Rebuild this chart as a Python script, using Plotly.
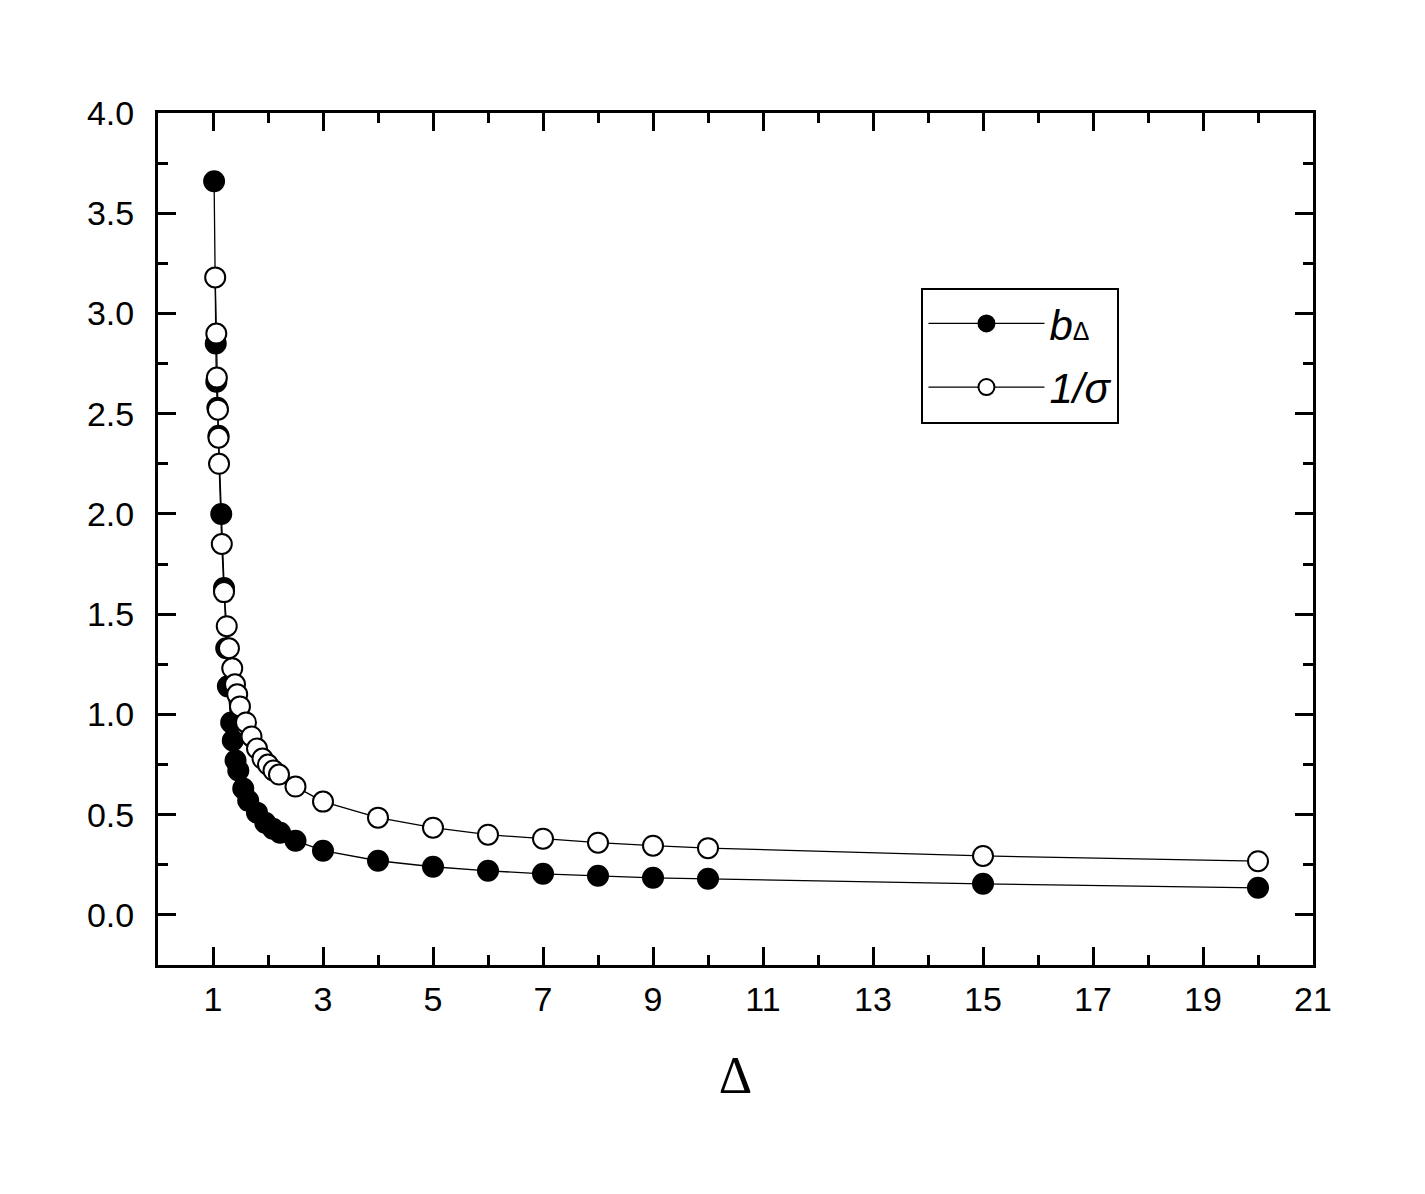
import plotly.graph_objects as go

# b_Delta (filled circles)
b_x = [1.02, 1.05, 1.06, 1.08, 1.10, 1.15, 1.20, 1.24, 1.27, 1.33, 1.36, 1.41, 1.46,
       1.55, 1.64, 1.80, 1.95, 2.09, 2.22, 2.5, 3, 4, 5, 6, 7, 8, 9, 10, 15, 20]
b_y = [3.66, 2.85, 2.66, 2.53, 2.39, 2.00, 1.63, 1.33, 1.14, 0.96, 0.87, 0.77, 0.72,
       0.63, 0.57, 0.51, 0.46, 0.43, 0.41, 0.37, 0.32, 0.27, 0.24, 0.22, 0.205, 0.195,
       0.185, 0.18, 0.155, 0.135]

# 1/sigma (open circles)
s_x = [1.04, 1.06, 1.07, 1.09, 1.10, 1.11, 1.16, 1.20, 1.25, 1.29, 1.35, 1.40, 1.44,
       1.49, 1.60, 1.70, 1.80, 1.90, 2.00, 2.10, 2.20, 2.5, 3, 4, 5, 6, 7, 8, 9, 10, 15, 20]
s_y = [3.18, 2.90, 2.68, 2.52, 2.38, 2.25, 1.85, 1.61, 1.44, 1.33, 1.23, 1.15, 1.10,
       1.04, 0.96, 0.89, 0.83, 0.78, 0.75, 0.72, 0.70, 0.64, 0.565, 0.485, 0.435, 0.40,
       0.38, 0.36, 0.345, 0.333, 0.294, 0.268]

x_ticks = list(range(1, 22, 2))
y_ticks = [0.0, 0.5, 1.0, 1.5, 2.0, 2.5, 3.0, 3.5, 4.0]
y_labels = ["%.1f" % v for v in y_ticks]

fig = go.Figure()
fig.add_trace(go.Scatter(
    x=b_x, y=b_y, mode="lines+markers",
    name="<i>b</i><span style='font-size:25px'>Δ</span>",
    legendgroup="a",
    line=dict(color="black", width=1.3),
    marker=dict(symbol="circle", size=20, color="black", line=dict(color="black", width=2)),
))
fig.add_trace(go.Scatter(
    x=s_x, y=s_y, mode="lines+markers", name="<i>1/σ</i>",
    legendgroup="b",
    line=dict(color="black", width=1.3),
    marker=dict(symbol="circle", size=20, color="white", line=dict(color="black", width=2)),
))

axis_common = dict(
    showline=True, linecolor="black", linewidth=3, mirror="ticks",
    ticks="inside", ticklen=18, tickwidth=3, tickcolor="black",
    showgrid=False, zeroline=False,
    tickfont=dict(family="Liberation Sans, Arial", size=34, color="black"),
)

fig.update_xaxes(
    range=[0, 21], tickvals=x_ticks, ticktext=[str(v) for v in x_ticks],
    minor=dict(ticks="inside", ticklen=10, tickwidth=3, tickcolor="black", dtick=1, tick0=0),
    ticklabelstandoff=2,
    title=dict(text="Δ", font=dict(family="Liberation Serif, Times New Roman", size=52, color="black"),
               standoff=40),
    **axis_common,
)
fig.update_yaxes(
    range=[-0.25, 4.0], tickvals=y_ticks, ticktext=y_labels,
    minor=dict(ticks="inside", ticklen=10, tickwidth=3, tickcolor="black", dtick=0.25, tick0=0),
    ticklabelstandoff=14,
    **axis_common,
)

fig.update_layout(
    width=1425, height=1194,
    margin=dict(l=150, r=120, t=105, b=237),
    paper_bgcolor="white", plot_bgcolor="white",
    showlegend=True,
    legend=dict(
        x=0.661, y=0.795, xanchor="left", yanchor="top",
        bordercolor="black", borderwidth=2, bgcolor="white",
        font=dict(family="Liberation Sans, Arial", size=42, color="black"),
        tracegroupgap=6, traceorder="grouped",
        itemwidth=116,
    ),
)

fig.write_html("out.html")
